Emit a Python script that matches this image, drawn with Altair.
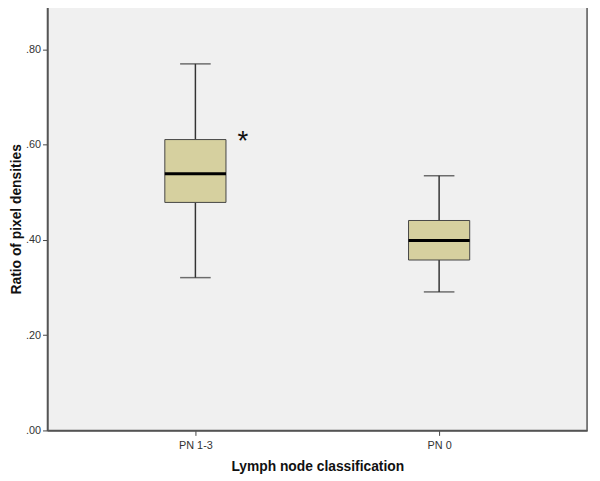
import altair as alt
import pandas as pd

groups = ["PN 1-3", "PN 0"]
lower_whisker = [0.321, 0.291]
q1 = [0.479, 0.358]
median = [0.539, 0.399]
q3 = [0.611, 0.441]
upper_whisker = [0.770, 0.535]
star_group = ["PN 1-3"]
star_value = [0.616]

df = pd.DataFrame({
    "group": groups, "lo": lower_whisker, "q1": q1, "med": median,
    "q3": q3, "hi": upper_whisker,
})
stars = pd.DataFrame({"group": star_group, "v": star_value, "t": ["*"]})

FONT = "Liberation Sans"
xscale = alt.Scale(type="point", domain=groups, padding=0.607)
yscale = alt.Scale(domain=[0, 0.889], nice=False, zero=True)

x = alt.X("group:N", scale=xscale, sort=groups,
          axis=alt.Axis(title="Lymph node classification", labelAngle=0,
                        labelFontSize=11, labelColor="#333", labelFont=FONT,
                        titleFont=FONT, titleFontSize=14, titleFontWeight="bold",
                        titleColor="#111", titlePadding=10, tickSize=5,
                        tickColor="#444", domainColor="#555", domainWidth=1.5,
                        labelPadding=4))
yaxis = alt.Axis(title="Ratio of pixel densities", values=[0, 0.2, 0.4, 0.6, 0.8],
                 labelExpr="replace(format(datum.value, '.2f'), '0.', '.')",
                 labelFontSize=11, labelColor="#333", labelFont=FONT,
                 titleFont=FONT, titleFontSize=14, titleFontWeight="bold",
                 titleColor="#111", titlePadding=2, tickSize=5, tickColor="#444",
                 domainColor="#555", domainWidth=1.5, grid=False, labelPadding=2)

base = alt.Chart(df)

whisk_low = base.mark_rule(color="#333", strokeWidth=1.5).encode(
    x=x, y=alt.Y("lo:Q", scale=yscale, axis=yaxis), y2="q1:Q")
whisk_high = base.mark_rule(color="#333", strokeWidth=1.5).encode(
    x=x, y=alt.Y("q3:Q", scale=yscale), y2="hi:Q")
cap_low = base.mark_tick(color="#333", size=31, thickness=1.5).encode(
    x=x, y=alt.Y("lo:Q", scale=yscale))
cap_high = base.mark_tick(color="#333", size=31, thickness=1.5).encode(
    x=x, y=alt.Y("hi:Q", scale=yscale))
box = base.mark_bar(size=62, fill="#d6d09f", stroke="#444", strokeWidth=1).encode(
    x=x, y=alt.Y("q1:Q", scale=yscale), y2="q3:Q")
med = base.mark_tick(color="#000", size=62, thickness=3, opacity=1).encode(
    x=x, y=alt.Y("med:Q", scale=yscale))
star = alt.Chart(stars).mark_text(text="*", fontSize=28, font=FONT, dx=48, dy=5,
                                  baseline="middle", color="#111").encode(
    x=alt.X("group:N", scale=xscale, sort=groups),
    y=alt.Y("v:Q", scale=yscale))

chart = alt.layer(whisk_low, whisk_high, cap_low, cap_high, box, med, star).properties(
    width=547, height=429,
    autosize=alt.AutoSizeParams(type="none"),
    padding={"left": 40, "top": -4, "right": 5, "bottom": 45},
    view=alt.ViewBackground(fill="#f0f0f0", stroke="#555", strokeWidth=1.5),
).configure(background="white")

chart.save("out.html", embed_options={"renderer": "svg", "actions": False})
